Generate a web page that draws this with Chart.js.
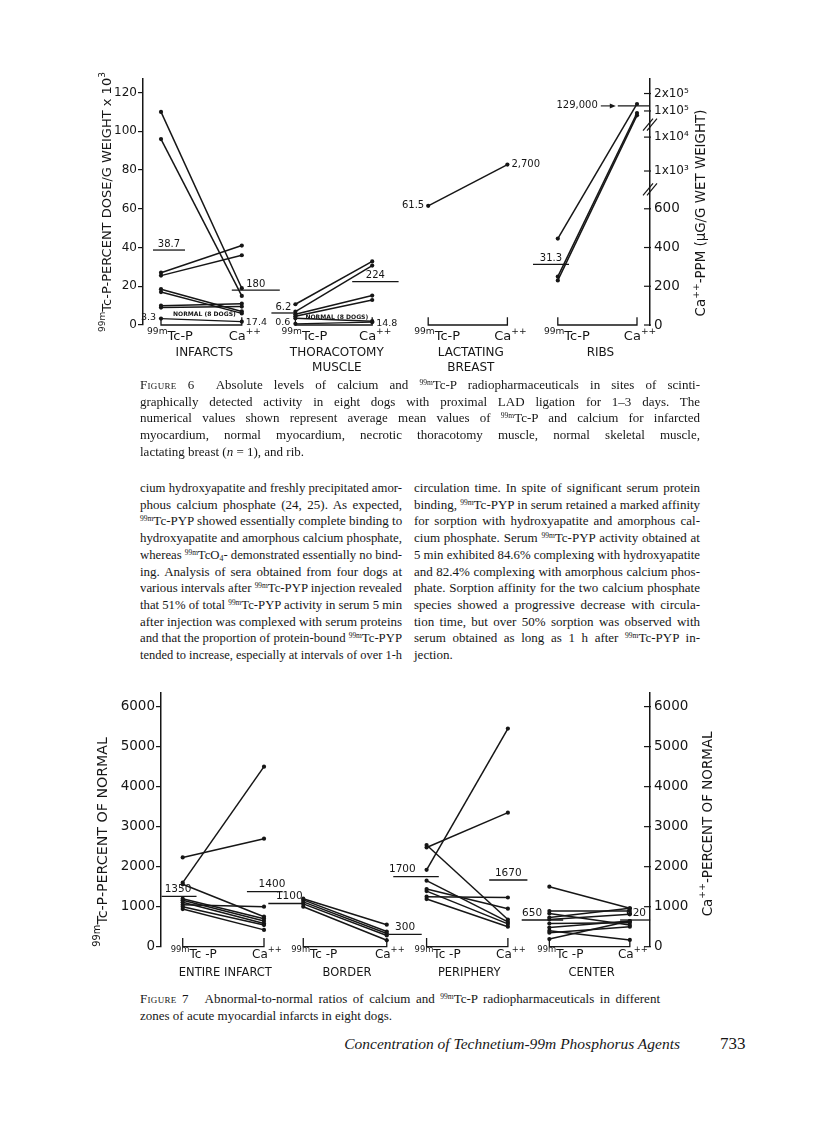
<!DOCTYPE html>
<html>
<head>
<meta charset="utf-8">
<title>Figures 6 and 7</title>
<script src="https://cdn.jsdelivr.net/npm/chart.js@4.4.1/dist/chart.umd.min.js"></script>
<style>
  body { margin: 0; background: #fff; }
  #page { position: relative; width: 816px; height: 1127px; overflow: hidden; font-family: "Liberation Serif", "Times New Roman", serif; color: #161616; }
  canvas { position: absolute; left: 0; }
  #fig6 { top: 40px; }
  #fig7 { top: 680px; }
  .blk { position: absolute; font-size: 13px; line-height: 16.7px; }
  .ln { white-space: nowrap; text-align: justify; text-align-last: justify; }
  .ln.end { text-align-last: left; }
  sup { font-size: 7.5px; line-height: 0; vertical-align: 4.5px; }
  sub { font-size: 8px; line-height: 0; vertical-align: -2px; }
  .sc { font-variant: small-caps; letter-spacing: 0.3px; }
  #foot { position: absolute; top: 1035px; left: 300px; width: 380px; text-align: right; font-style: italic; font-size: 15.5px; }
  #pno { position: absolute; top: 1034px; left: 720px; font-size: 17px; }
</style>
</head>
<body>
<div id="page">
  <canvas id="fig6" width="816" height="340"></canvas>

  <div class="blk" style="left:140px;top:377px;width:560px">
    <div class="ln"><span class="sc">Figure</span> 6&nbsp; Absolute levels of calcium and <sup>99m</sup>Tc-P radiopharmaceuticals in sites of scinti-</div>
    <div class="ln">graphically detected activity in eight dogs with proximal LAD ligation for 1–3 days. The</div>
    <div class="ln">numerical values shown represent average mean values of <sup>99m</sup>Tc-P and calcium for infarcted</div>
    <div class="ln">myocardium, normal myocardium, necrotic thoracotomy muscle, normal skeletal muscle,</div>
    <div class="ln end">lactating breast (<i>n</i> = 1), and rib.</div>
  </div>

  <div class="blk" style="left:140px;top:480px;width:262px">
    <div class="ln">cium hydroxyapatite and freshly precipitated amor-</div>
    <div class="ln">phous calcium phosphate (24, 25). As expected,</div>
    <div class="ln"><sup>99m</sup>Tc-PYP showed essentially complete binding to</div>
    <div class="ln">hydroxyapatite and amorphous calcium phosphate,</div>
    <div class="ln">whereas <sup>99m</sup>TcO<sub>4</sub>- demonstrated essentially no bind-</div>
    <div class="ln">ing. Analysis of sera obtained from four dogs at</div>
    <div class="ln">various intervals after <sup>99m</sup>Tc-PYP injection revealed</div>
    <div class="ln">that 51% of total <sup>99m</sup>Tc-PYP activity in serum 5 min</div>
    <div class="ln">after injection was complexed with serum proteins</div>
    <div class="ln">and that the proportion of protein-bound <sup>99m</sup>Tc-PYP</div>
    <div class="ln">tended to increase, especially at intervals of over 1-h</div>
  </div>

  <div class="blk" style="left:414px;top:480px;width:286px">
    <div class="ln">circulation time. In spite of significant serum protein</div>
    <div class="ln">binding, <sup>99m</sup>Tc-PYP in serum retained a marked affinity</div>
    <div class="ln">for sorption with hydroxyapatite and amorphous cal-</div>
    <div class="ln">cium phosphate. Serum <sup>99m</sup>Tc-PYP activity obtained at</div>
    <div class="ln">5 min exhibited 84.6% complexing with hydroxyapatite</div>
    <div class="ln">and 82.4% complexing with amorphous calcium phos-</div>
    <div class="ln">phate. Sorption affinity for the two calcium phosphate</div>
    <div class="ln">species showed a progressive decrease with circula-</div>
    <div class="ln">tion time, but over 50% sorption was observed with</div>
    <div class="ln">serum obtained as long as 1 h after <sup>99m</sup>Tc-PYP in-</div>
    <div class="ln end">jection.</div>
  </div>

  <canvas id="fig7" width="816" height="300"></canvas>

  <div class="blk" style="left:140px;top:991px;width:520px">
    <div class="ln"><span class="sc">Figure</span> 7&nbsp;&nbsp; Abnormal-to-normal ratios of calcium and <sup>99m</sup>Tc-P radiopharmaceuticals in different</div>
    <div class="ln end">zones of acute myocardial infarcts in eight dogs.</div>
  </div>

  <div id="foot">Concentration of Technetium-99m Phosphorus Agents</div>
  <div id="pno">733</div>
</div>

<script>
const INK = "#161616";
const SANS = '"DejaVu Sans", sans-serif';

// ---------- Figure 6 ----------
const f6Groups = [["INFARCTS"], ["THORACOTOMY", "MUSCLE"], ["LACTATING", "BREAST"], ["RIBS"]];
const f6TcX = [0, 1.68, 3.34, 4.96];
const f6CaX = [1.01, 2.64, 4.33, 5.95];
// 99mTc-P (percent dose/g x 10^3) and Ca++ (ppm), one pair per dog
const f6Tc = [
  [110, 96, 27, 25.5, 18.5, 17, 10, 9],
  [10.7, 6.9, 5.5, 4.5, 3.5],
  [61.5],
  [44.6, 25, 23]
];
const f6Ca = [
  [190, 150, 410, 360, 70, 60, 110, 95],
  [328, 307, 152, 129, 20],
  [2700],
  [140000, 93000, 85000]
];
const f6TcMean = [38.7, 6.2, null, 31.3];
const f6CaMean = [180, 224, null, 129000];
const f6TcMeanText = ["38.7", "6.2", null, "31.3"];
const f6CaMeanText = ["180", "224", null, "129,000"];
const f6NormTc = [3.3, 0.6];
const f6NormCa = [17.4, 14.8];
const f6LeftTicks = [0, 20, 40, 60, 80, 100, 120];
const f6RightTickPpm = [0, 200, 400, 600, 1e3, 1e4, 1e5, 2e5];
const f6RightTickText = ["0", "200", "400", "600", "1x10³", "1x10⁴", "1x10⁵", "2x10⁵"];
// the broken Ca++ axis: ppm -> place on the left scale
const caBreakPpm = [0, 600, 1000, 10000, 100000, 200000];
const caBreakPos = [0, 60, 79.5, 97, 110.5, 119.5];

// ---------- Figure 7 ----------
const f7Groups = ["ENTIRE INFARCT", "BORDER", "PERIPHERY", "CENTER"];
const f7TcX = [0, 1.483, 3.0, 4.51];
const f7CaX = [1.0, 2.51, 4.0, 5.5];
const f7Tc = [
  [2230, 1600, 1560, 1200, 1160, 1110, 1050, 1000, 940],
  [1200, 1170, 1120, 1070, 1000],
  [1920, 2480, 2540, 1650, 1440, 1390, 1250, 1190],
  [1500, 890, 830, 730, 680, 580, 480, 400, 350, 190]
];
const f7Ca = [
  [2700, 4500, 750, 700, 640, 580, 1000, 540, 420],
  [550, 380, 330, 280, 160],
  [5450, 3350, 680, 620, 950, 570, 1230, 500],
  [960, 890, 540, 960, 810, 600, 640, 170, 500, 640]
];
const f7TcMean = [1260, 1080, 1750, 667];
const f7CaMean = [1375, 308, 1667, 667];
const f7TcMeanText = ["1350", "1100", "1700", "650"];
const f7CaMeanText = ["1400", "300", "1670", "620"];
const f7Ticks = [0, 1000, 2000, 3000, 4000, 5000, 6000];

function caPos(ppm) {
  for (let i = 1; i < caBreakPpm.length; i++) {
    if (ppm <= caBreakPpm[i] || i === caBreakPpm.length - 1) {
      const f = (ppm - caBreakPpm[i - 1]) / (caBreakPpm[i] - caBreakPpm[i - 1]);
      return caBreakPos[i - 1] + f * (caBreakPos[i] - caBreakPos[i - 1]);
    }
  }
}

// text helpers: parts = [text, size, raise]
function partsWidth(ctx, parts, k, weight) {
  let w = 0;
  parts.forEach(p => { ctx.font = (weight || "") + " " + p[1] * k + "px " + SANS; w += ctx.measureText(p[0]).width; });
  return w;
}
function drawParts(ctx, parts, x, y, align, opt) {
  opt = opt || {};
  let k = opt.k || 1;
  if (opt.fit) k = opt.fit / partsWidth(ctx, parts, 1, opt.weight);
  const w = partsWidth(ctx, parts, k, opt.weight);
  let cx = align === "center" ? x - w / 2 : align === "right" ? x - w : x;
  ctx.textAlign = "left";
  parts.forEach(p => {
    ctx.font = (opt.weight || "") + " " + p[1] * k + "px " + SANS;
    ctx.fillText(p[0], cx, y + (p[2] || 0) * k);
    cx += ctx.measureText(p[0]).width;
  });
}
function vertical(ctx, parts, x, y, len) {
  ctx.save();
  ctx.translate(x, y);
  ctx.rotate(-Math.PI / 2);
  drawParts(ctx, parts, 0, 0, "center", { fit: len });
  ctx.restore();
}
const tcParts = (s, t) => [["99m", s * 0.7, -s * 0.38], [t || "Tc-P", s]];
const caParts = s => [["Ca", s], ["++", s * 0.7, -s * 0.38]];

function pairSet(x0, y0, x1, y1, extra) {
  return Object.assign({
    data: [{ x: x0, y: y0 }, { x: x1, y: y1 }],
    showLine: true, borderColor: INK, backgroundColor: INK, borderWidth: 1.5,
    pointRadius: 2.1, pointBorderWidth: 0, pointHoverRadius: 2.1, tension: 0, clip: false
  }, extra);
}
function barSet(x, ext, v) {
  return pairSet(x + ext[0], v, x + ext[1], v, { pointRadius: 0, borderWidth: 1.3 });
}
function bracketSet(x0, x1, h) {
  return {
    data: [{ x: x0, y: h }, { x: x0, y: 0 }, { x: x1, y: 0 }, { x: x1, y: h }],
    showLine: true, borderColor: INK, borderWidth: 1.3, pointRadius: 0, clip: false
  };
}
function hline(ctx, x0, x1, y, w) {
  ctx.lineWidth = w || 1.2;
  ctx.beginPath(); ctx.moveTo(x0, y); ctx.lineTo(x1, y); ctx.stroke();
}

// extents of the mean bars, relative to each category
const f6TcBar = [[-0.1, 0.3], [-0.3, 0], null, [-0.31, 0.14]];
const f6CaBar = [[-0.125, 0.475], [-0.25, 0.33], null, [-0.24, 0.16]];
const f7TcBar = [[-0.26, 0.17], [-0.43, 0], [-0.41, 0.15], [-0.34, 0.17]];
const f7CaBar = [[-0.21, 0.23], [0.02, 0.43], [-0.23, 0.24], [-0.12, 0.25]];
const f7TcLab = [0.47, 0.6, 0.2, 0.25];
const f7CaLab = [0.7, 0.5, 0.5, 0.53];

// ---- figure 6 datasets ----
const f6Sets = [];
f6Tc.forEach((vals, g) => {
  f6Sets.push(bracketSet(f6TcX[g], f6CaX[g], 4));
  vals.forEach((v, i) => f6Sets.push(pairSet(f6TcX[g], v, f6CaX[g], caPos(f6Ca[g][i]))));
  if (f6TcMean[g] != null) f6Sets.push(barSet(f6TcX[g], f6TcBar[g], f6TcMean[g]));
  if (f6CaMean[g] != null) f6Sets.push(barSet(f6CaX[g], f6CaBar[g], caPos(f6CaMean[g])));
});
f6NormTc.forEach((v, g) => f6Sets.push(pairSet(f6TcX[g], v, f6CaX[g], caPos(f6NormCa[g]), { borderWidth: 1.3 })));

const f6Decor = {
  id: "f6Decor",
  afterDraw(chart) {
    const { ctx, chartArea, scales: { x, y, y2 } } = chart;
    const X = v => x.getPixelForValue(v), Y = v => y.getPixelForValue(v);
    const y0 = Y(0);
    ctx.save();
    ctx.fillStyle = INK; ctx.strokeStyle = INK; ctx.textBaseline = "middle";

    f6Groups.forEach((lines, g) => {
      const tx = X(f6TcX[g]), cx = X(f6CaX[g]);
      drawParts(ctx, tcParts(13), tx + 9, y0 + 12, "center");
      drawParts(ctx, caParts(13), cx + 3, y0 + 12, "center");
      lines.forEach((t, j) => drawParts(ctx, [[t, 12]], (tx + cx) / 2 + 3, y0 + 28 + j * 15, "center"));
      if (f6TcMean[g] != null) {
        const b = f6TcBar[g];
        drawParts(ctx, [[f6TcMeanText[g], 10]], X(f6TcX[g] + (b[0] + b[1]) / 2), Y(f6TcMean[g]) - 6, "center");
      }
      if (f6CaMean[g] != null) {
        const b = f6CaBar[g], py = Y(caPos(f6CaMean[g]));
        if (g === 3) {
          const left = X(f6CaX[g] + b[0]);
          drawParts(ctx, [[f6CaMeanText[g], 10]], left - 20, py, "right");
          hline(ctx, left - 17, left - 5, py, 1.1);
          ctx.beginPath(); ctx.moveTo(left - 2, py); ctx.lineTo(left - 8, py - 2.5); ctx.lineTo(left - 8, py + 2.5); ctx.fill();
        } else {
          drawParts(ctx, [[f6CaMeanText[g], 10]], X(f6CaX[g] + (b[0] + b[1]) / 2), py - 6, "center");
        }
      }
    });

    // normal myocardium / skeletal muscle
    f6NormTc.forEach((v, g) => {
      const tx = X(f6TcX[g]), cx = X(f6CaX[g]);
      drawParts(ctx, [[String(v), 9.5]], tx - 5, Y(v) - 1, "right");
      drawParts(ctx, [[String(f6NormCa[g]), 9.5]], cx + 4, Y(caPos(f6NormCa[g])) + 1, "left");
      drawParts(ctx, [["NORMAL (8 DOGS)", 8]], (tx + cx) / 2 + 3, Y(v / 2 + caPos(f6NormCa[g]) / 2) - 6, "center", { fit: 63, weight: "bold" });
    });

    // lactating breast values
    drawParts(ctx, [[String(f6Tc[2][0]), 10]], X(f6TcX[2]) - 4, Y(f6Tc[2][0]), "right");
    drawParts(ctx, [["2,700", 10]], X(f6CaX[2]) + 4, Y(caPos(f6Ca[2][0])), "left");

    // right axis: inward ticks and breaks
    const ax = chartArea.right;
    ctx.lineWidth = 1.2;
    y2.ticks.forEach(t => hline(ctx, ax - 6, ax + 1, y2.getPixelForValue(t.value), 1.2));
    [70, 103.5].forEach(b => {
      const py = Y(b);
      [-2, 2].forEach(d => { ctx.beginPath(); ctx.moveTo(ax - 5 + d, py + 6); ctx.lineTo(ax + 5 + d, py - 6); ctx.stroke(); });
    });

    // axis titles
    const mid = (chartArea.top + y0) / 2;
    vertical(ctx, [["99m", 9, -5], ["Tc-P-PERCENT DOSE/G WEIGHT x 10", 13], ["3", 9, -5]], chartArea.left - 35, mid, 260);
    vertical(ctx, [["Ca", 13], ["++", 9, -5], ["-PPM (µG/G WET WEIGHT)", 13]], ax + 52, mid + 11, 207);
    ctx.restore();
  }
};

new Chart(document.getElementById("fig6"), {
  type: "scatter",
  data: { datasets: f6Sets },
  options: {
    responsive: false, animation: false, events: [],
    layout: { padding: { left: 103, right: 116, top: 39, bottom: 55 } },
    plugins: { legend: { display: false }, tooltip: { enabled: false } },
    scales: {
      x: { type: "linear", display: false, min: -0.225, max: 6.1125 },
      y: {
        position: "left", min: 0, max: 127,
        afterBuildTicks: s => { s.ticks = f6LeftTicks.map(v => ({ value: v })); },
        afterFit: s => { s.width = 40; },
        ticks: { font: { family: SANS, size: 12 }, color: INK, padding: 1, autoSkip: false, callback: v => String(v) },
        grid: { drawOnChartArea: false, drawTicks: true, tickLength: 5, color: INK, lineWidth: 1.2 },
        border: { color: INK, width: 1.5 }
      },
      y2: {
        position: "right", min: 0, max: 127,
        afterBuildTicks: s => { s.ticks = f6RightTickPpm.map(v => ({ value: caPos(v) })); },
        afterFit: s => { s.width = 50; },
        ticks: {
          font: c => ({ family: SANS, size: c.index >= 4 ? 12 : 13.5 }),
          color: INK, padding: 4, autoSkip: false, callback: (v, i) => f6RightTickText[i]
        },
        grid: { drawOnChartArea: false, drawTicks: false },
        border: { color: INK, width: 1.5 }
      }
    }
  },
  plugins: [f6Decor]
});

// ---- figure 7 datasets ----
const f7Sets = [];
f7Tc.forEach((vals, g) => {
  f7Sets.push(bracketSet(f7TcX[g], f7CaX[g], 220));
  vals.forEach((v, i) => f7Sets.push(pairSet(f7TcX[g], v, f7CaX[g], f7Ca[g][i])));
  f7Sets.push(barSet(f7TcX[g], f7TcBar[g], f7TcMean[g]));
  f7Sets.push(barSet(f7CaX[g], f7CaBar[g], f7CaMean[g]));
});

const f7Decor = {
  id: "f7Decor",
  afterDraw(chart) {
    const { ctx, chartArea, scales: { x, y, y2 } } = chart;
    const X = v => x.getPixelForValue(v), Y = v => y.getPixelForValue(v);
    const y0 = Y(0);
    ctx.save();
    ctx.fillStyle = INK; ctx.strokeStyle = INK; ctx.textBaseline = "middle";
    f7Groups.forEach((name, g) => {
      const tx = X(f7TcX[g]), cx = X(f7CaX[g]);
      drawParts(ctx, tcParts(12, "Tc -P"), tx + 11, y0 + 8, "center");
      drawParts(ctx, caParts(12), cx + 3, y0 + 8, "center");
      drawParts(ctx, [[name, 11.5]], (tx + cx) / 2 + 2, y0 + 26, "center");
      const bt = f7TcBar[g], bc = f7CaBar[g];
      drawParts(ctx, [[f7TcMeanText[g], 10.5]], X(f7TcX[g] + bt[0] + (bt[1] - bt[0]) * f7TcLab[g]), Y(f7TcMean[g]) - 7, "center");
      drawParts(ctx, [[f7CaMeanText[g], 10.5]], X(f7CaX[g] + bc[0] + (bc[1] - bc[0]) * f7CaLab[g]), Y(f7CaMean[g]) - 7, "center");
    });
    const ax = chartArea.right;
    y2.ticks.forEach(t => hline(ctx, ax - 6, ax + 1, y2.getPixelForValue(t.value), 1.2));
    const mid = (chartArea.top + y0) / 2;
    vertical(ctx, [["99m", 9, -5], ["Tc-P-PERCENT OF NORMAL", 13]], chartArea.left - 58, mid + 22, 210);
    vertical(ctx, [["Ca", 13], ["++", 9, -5], ["-PERCENT OF NORMAL", 13]], ax + 58, mid + 4, 185);
    ctx.restore();
  }
};

const f7Axis = (pos, extra) => Object.assign({
  position: pos, min: 0, max: 6340,
  afterBuildTicks: s => { s.ticks = f7Ticks.map(v => ({ value: v })); },
  afterFit: s => { s.width = pos === "left" ? 45 : 50; },
  ticks: { font: { family: SANS, size: 13.5 }, color: INK, padding: pos === "left" ? 1 : 4, autoSkip: false, callback: v => String(v) },
  border: { color: INK, width: 1.5 }
}, extra);

new Chart(document.getElementById("fig7"), {
  type: "scatter",
  data: { datasets: f7Sets },
  options: {
    responsive: false, animation: false, events: [],
    layout: { padding: { left: 116, right: 116, top: 13, bottom: 33.3 } },
    plugins: { legend: { display: false }, tooltip: { enabled: false } },
    scales: {
      x: { type: "linear", display: false, min: -0.267, max: 5.748 },
      y: f7Axis("left", { grid: { drawOnChartArea: false, drawTicks: true, tickLength: 5, color: INK, lineWidth: 1.2 } }),
      y2: f7Axis("right", { grid: { drawOnChartArea: false, drawTicks: false } })
    }
  },
  plugins: [f7Decor]
});

// squeeze any text line that is wider than its column
document.fonts.ready.then(() => {
  document.querySelectorAll(".ln").forEach(el => {
    const r = document.createRange();
    r.selectNodeContents(el);
    const w = r.getBoundingClientRect().width, box = el.clientWidth;
    if (w > box + 0.5) {
      el.style.width = w + "px";
      el.style.transformOrigin = "0 0";
      el.style.transform = "scaleX(" + (box / w) + ")";
    }
  });
});
</script>
</body>
</html>
